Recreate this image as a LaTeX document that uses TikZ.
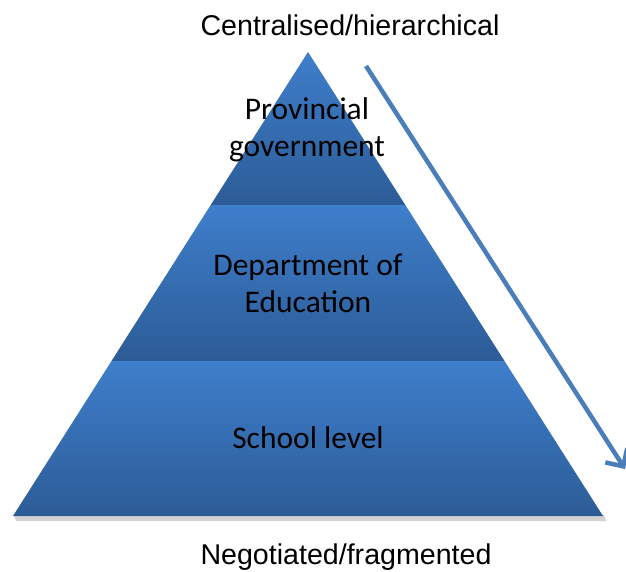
\documentclass[tikz,border=0pt]{standalone}
\usepackage{fontspec}
\setmainfont{Liberation Sans}
\newfontfamily\calib{Carlito}
\usetikzlibrary{arrows.meta}
\definecolor{bandtop}{RGB}{62,126,203}
\definecolor{bandbot}{RGB}{44,92,151}
\definecolor{arrowblue}{RGB}{74,126,187}
\tikzset{
  band/.style={top color=bandtop, bottom color=bandbot, draw=none},
  levellabel/.style={font=\calib\fontsize{31.5}{37}\selectfont, align=center, text=black, inner sep=0pt},
  axislabel/.style={font=\fontsize{28.6}{32}\selectfont, text=black, inner sep=0pt, anchor=base}
}
\begin{document}
\begin{tikzpicture}[x=1pt,y=-1pt]
\useasboundingbox (0,0) rectangle (626,572);
% shadow
\fill[black, opacity=0.18] (16,521) -- (606,521) -- (604,515) -- (14,515) -- cycle;
% bands
\shade[band] (308,52) -- (405.3,205) -- (210.7,205) -- cycle;
\shade[band] (210.7,205) -- (405.3,205) -- (504.5,361) -- (111.5,361) -- cycle;
\shade[band] (111.5,361) -- (504.5,361) -- (603,516) -- (13,516) -- cycle;
% labels
\node[levellabel] (prov) at (307,130) {Provincial\\government};
\node[levellabel] (dept) at (308,283) {Department of\\Education};
\node[levellabel] (school) at (308,438) {School level};
\node[axislabel] (top) at (350,36) {Centralised/hierarchical};
\node[axislabel] (bottom) at (346,564) {Negotiated/fragmented};
% arrow
\coordinate (astart) at (366,66);
\coordinate (aend) at (625,469);
\draw[arrowblue, line width=4.5pt, -{Straight Barb[length=13pt,width=26pt,line width=4.5pt]}] (astart) -- (aend);
\end{tikzpicture}
\end{document}
